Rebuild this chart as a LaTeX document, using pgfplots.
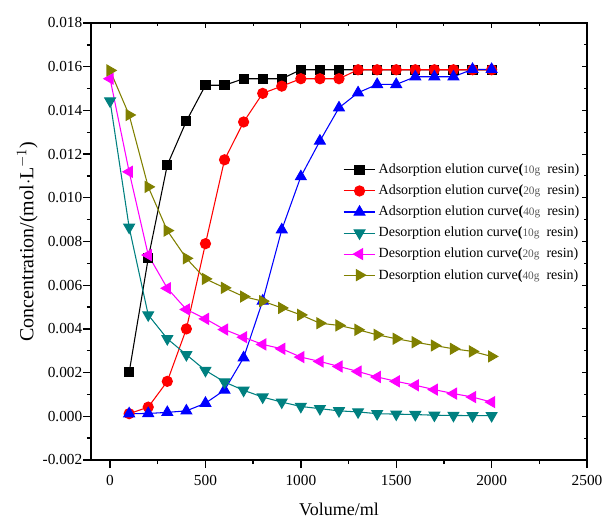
\documentclass[border=0pt]{standalone}
\usepackage{pgfplots}
\pgfplotsset{compat=1.18}
\usepackage{pgfplotstable}
\usepackage{fontspec}
\setmainfont{Liberation Serif}
\newfontfamily\tickfont{Liberation Serif}
\definecolor{cteal}{RGB}{0,128,128}
\definecolor{colive}{RGB}{128,128,0}
\definecolor{cmag}{RGB}{255,0,255}

\pgfplotstableread{
x y
100 0.00201
200 0.00723
300 0.0115
400 0.01351
500 0.01515
600 0.01515
700 0.01545
800 0.01545
900 0.01545
1000 0.01586
1100 0.01586
1200 0.01586
1300 0.01586
1400 0.01586
1500 0.01586
1600 0.01586
1700 0.01586
1800 0.01586
1900 0.01586
2000 0.01586
}\adsA
\pgfplotstableread{
x y
100 0.00012
200 0.00042
300 0.0016
400 0.0040
500 0.0079
600 0.01174
700 0.01347
800 0.01478
900 0.01511
1000 0.01545
1100 0.01545
1200 0.01545
1300 0.01586
1400 0.01586
1500 0.01586
1600 0.01586
1700 0.01586
1800 0.01586
1900 0.01586
2000 0.01586
}\adsB
\pgfplotstableread{
x y
100 0.00012
200 0.00013
300 0.00018
400 0.00025
500 0.0006
600 0.0012
700 0.00268
800 0.00528
900 0.00854
1000 0.01097
1100 0.0126
1200 0.01412
1300 0.01481
1400 0.01519
1500 0.01519
1600 0.01554
1700 0.01554
1800 0.01554
1900 0.01588
2000 0.01588
}\adsC
\pgfplotstableread{
x y
0 0.01443
100 0.00865
200 0.00464
300 0.00355
400 0.00282
500 0.0021
600 0.00157
700 0.00119
800 0.00088
900 0.00065
1000 0.00045
1100 0.00035
1200 0.00025
1300 0.0002
1400 0.00012
1500 0.0001
1600 0.00008
1700 0.00005
1800 0.00004
1900 0.00003
2000 0.00003
}\desA
\pgfplotstableread{
x y
0 0.01545
100 0.01119
200 0.00738
300 0.00586
400 0.00489
500 0.00446
600 0.00397
700 0.00362
800 0.00329
900 0.00309
1000 0.00271
1100 0.00251
1200 0.00228
1300 0.00205
1400 0.0018
1500 0.0016
1600 0.00142
1700 0.00122
1800 0.00104
1900 0.00088
2000 0.00065
}\desB
\pgfplotstableread{
x y
0 0.01583
100 0.01379
200 0.0105
300 0.00850
400 0.00723
500 0.00629
600 0.00588
700 0.00548
800 0.00527
900 0.00496
1000 0.00464
1100 0.00426
1200 0.00416
1300 0.00396
1400 0.00373
1500 0.00355
1600 0.00339
1700 0.00324
1800 0.00309
1900 0.00297
2000 0.00274
}\desC

\newcommand{\legtxt}[2]{#1 elution curve\textbf{(}\textcolor{black!65}{\fontsize{8.5}{9}\selectfont #2g}\ \ resin)}
\newcommand{\tl}[1]{\mbox{\tickfont\fontsize{11.5}{13}\selectfont #1}}

\begin{document}
\begin{tikzpicture}
\begin{axis}[
  scale only axis,
  width=372pt, height=327.75pt,
  xmin=-100, xmax=2500, ymin=-0.002, ymax=0.018,
  xtick={0,500,1000,1500,2000,2500},
  xticklabels={\tl{0},\tl{500},\tl{1000},\tl{1500},\tl{2000},\tl{2500}},
  ytick={-0.002,0,0.002,0.004,0.006,0.008,0.010,0.012,0.014,0.016,0.018},
  yticklabels={\tl{-0.002},\tl{0.000},\tl{0.002},\tl{0.004},\tl{0.006},\tl{0.008},\tl{0.010},\tl{0.012},\tl{0.014},\tl{0.016},\tl{0.018}},
  yticklabel style={xshift=3pt},
  xticklabel style={yshift=-2pt},
  minor x tick num=1, minor y tick num=1,
  xtick pos=left, ytick pos=left,
  tick align=outside,
  major tick length=6pt, minor tick length=3pt,
  axis line style={line width=1.1pt},
  every tick/.style={line width=1pt, black},
  scaled y ticks=false,
  xlabel={Volume/ml},
  ylabel={Concentration/(mol$\cdot$L$^{-1}$)},
  xlabel style={font=\fontsize{13.5}{15}\selectfont, yshift=-6pt},
  ylabel style={font=\fontsize{15}{17}\selectfont, yshift=-3pt},
  legend style={draw=none, fill=none, at={(0.505,0.687)}, anchor=north west,
    font=\fontsize{10.5}{12}\selectfont, row sep=3pt, inner sep=1pt},
  legend cell align=left,
  legend image code/.code={
    \draw[mark repeat=2, mark phase=2, line width=0.8pt]
      plot coordinates {(0cm,0cm) (0.42cm,0cm) (0.84cm,0cm)};
  },
  every axis plot/.append style={line width=0.8pt},
]
\addplot[black, mark=square*, mark size=3.4pt] table[x=x,y=y]{\adsA};
\addlegendentry{\legtxt{Adsorption}{10}}
\addplot[red, mark=*, mark size=3.8pt] table[x=x,y=y]{\adsB};
\addlegendentry{\legtxt{Adsorption}{20}}
\addplot[blue, mark=triangle*, mark size=4.6pt] table[x=x,y=y]{\adsC};
\addlegendentry{\legtxt{Adsorption}{40}}
\addplot[cteal, mark=triangle*, mark options={rotate=180}, mark size=4.6pt] table[x=x,y=y]{\desA};
\addlegendentry{\legtxt{Desorption}{10}}
\addplot[cmag, mark=triangle*, mark options={rotate=90}, mark size=4.6pt] table[x=x,y=y]{\desB};
\addlegendentry{\legtxt{Desorption}{20}}
\addplot[colive, mark=triangle*, mark options={rotate=-90}, mark size=4.6pt] table[x=x,y=y]{\desC};
\addlegendentry{\legtxt{Desorption}{40}}
\coordinate (bl) at (rel axis cs:0,0);
\coordinate (tr) at (rel axis cs:1,1);
\end{axis}
\begin{axis}[
  scale only axis,
  width=372pt, height=327.75pt,
  xmin=-100, xmax=2500, ymin=-0.002, ymax=0.018,
  xtick={0,500,...,2500},
  ytick={-0.002,0,0.002,0.004,0.006,0.008,0.010,0.012,0.014,0.016,0.018},
  minor x tick num=1, minor y tick num=1,
  xtick pos=right, ytick pos=right,
  tick align=inside,
  major tick length=4pt, minor tick length=2.5pt,
  axis line style={line width=1.1pt},
  every tick/.style={line width=0.8pt, black},
  xticklabels={}, yticklabels={},
  scaled y ticks=false,
]
\end{axis}
\pgfresetboundingbox
\path ([shift={(-68.25pt,-49.5pt)}]bl) rectangle ([shift={(12pt,17.25pt)}]tr);
\end{tikzpicture}
\end{document}
